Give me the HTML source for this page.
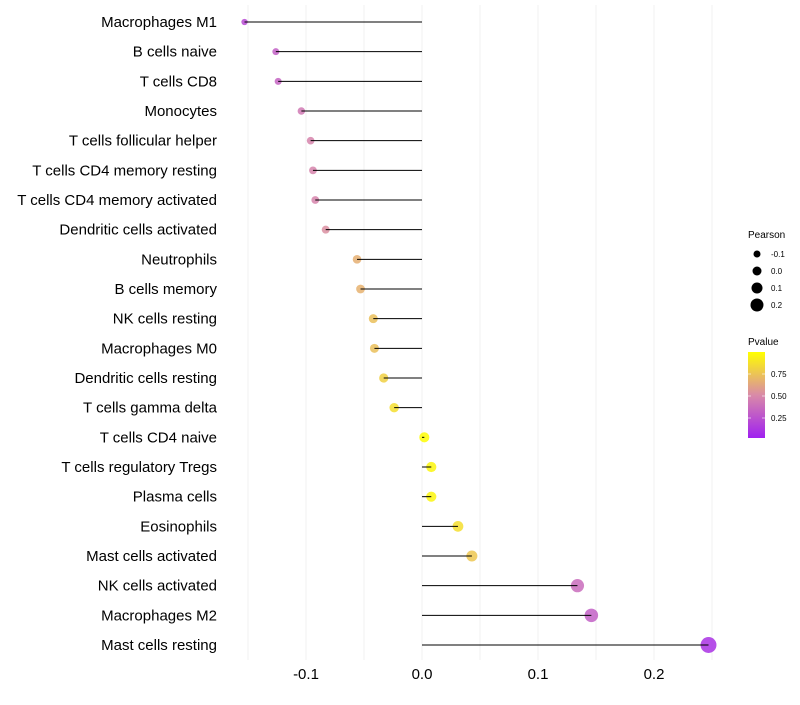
<!DOCTYPE html>
<html><head><meta charset="utf-8"><style>
body{margin:0;background:#fff;font-family:"Liberation Sans",sans-serif}
svg text{font-family:"Liberation Sans",sans-serif}
</style></head><body>
<svg id="chart" width="800" height="700" xmlns="http://www.w3.org/2000/svg">
<defs><linearGradient id="pg" x1="0" y1="1" x2="0" y2="0">
<stop offset="0" stop-color="#a020f0"/><stop offset="0.5" stop-color="#d98aa8"/><stop offset="1" stop-color="#ffff00"/></linearGradient></defs>
<g id="grid"></g>
<g id="marks"></g>
<g id="labels"></g>
<g id="xt"></g>
<g id="sleg">
<text x="748" y="238" font-size="10">Pearson</text>
</g>
<g>
<text x="748" y="345" font-size="10">Pvalue</text>
<rect x="748" y="352" width="17" height="86" fill="url(#pg)"/>
<line x1="748" x2="751" y1="374" y2="374" stroke="#fff" opacity="0.6"/><line x1="762" x2="765" y1="374" y2="374" stroke="#fff" opacity="0.6"/>
<line x1="748" x2="751" y1="396" y2="396" stroke="#fff" opacity="0.6"/><line x1="762" x2="765" y1="396" y2="396" stroke="#fff" opacity="0.6"/>
<line x1="748" x2="751" y1="418" y2="418" stroke="#fff" opacity="0.6"/><line x1="762" x2="765" y1="418" y2="418" stroke="#fff" opacity="0.6"/>
<text x="771" y="377" font-size="8">0.75</text>
<text x="771" y="399" font-size="8">0.50</text>
<text x="771" y="421" font-size="8">0.25</text>
</g>
</svg>
<script>
const cells=["Macrophages M1","B cells naive","T cells CD8","Monocytes","T cells follicular helper","T cells CD4 memory resting","T cells CD4 memory activated","Dendritic cells activated","Neutrophils","B cells memory","NK cells resting","Macrophages M0","Dendritic cells resting","T cells gamma delta","T cells CD4 naive","T cells regulatory  Tregs ","Plasma cells","Eosinophils","Mast cells activated","NK cells activated","Macrophages M2","Mast cells resting"];
const pearson=[-0.153,-0.126,-0.124,-0.104,-0.096,-0.094,-0.092,-0.083,-0.056,-0.053,-0.042,-0.041,-0.033,-0.024,0.002,0.008,0.008,0.031,0.043,0.134,0.146,0.247];
const pvalue=[0.2,0.3,0.32,0.42,0.47,0.47,0.47,0.52,0.66,0.67,0.73,0.73,0.8,0.86,0.99,0.96,0.96,0.86,0.76,0.36,0.3,0.08];
const xTicks=[-0.1,0.0,0.1,0.2];
const xTickLabels=["-0.1","0.0","0.1","0.2"];
const sizeLegend=[-0.1,0.0,0.1,0.2];
const ns="http://www.w3.org/2000/svg";
const X=v=>422+v*1160;
const Y=i=>22+i*(623/21);
const R=v=>Math.max(1.8,5+12*v);
function col(p){const s=[[160,32,240],[217,138,168],[255,255,0]];let t=p*2,a,b;if(t<=1){a=s[0];b=s[1];}else{a=s[1];b=s[2];t-=1;}return `rgb(${a.map((c,k)=>Math.round(c+(b[k]-c)*t)).join(',')})`;}
function mk(tag,at,parent){const e=document.createElementNS(ns,tag);for(const k in at)e.setAttribute(k,at[k]);document.getElementById(parent).appendChild(e);return e;}
for(let g=-0.15;g<=0.2501;g+=0.05){const l=mk('line',{x1:X(g),x2:X(g),y1:5,y2:660,stroke:'#f2f2f2','stroke-width':1},'grid');

}
cells.forEach((c,i)=>{
const pt=mk('circle',{cx:X(pearson[i]),cy:Y(i),r:R(pearson[i]),fill:col(pvalue[i]),'fill-opacity':0.85},'marks');


const ln=mk('line',{x1:X(0),x2:X(pearson[i]),y1:Y(i),y2:Y(i),stroke:'#000','stroke-width':1},'marks');


const t=mk('text',{x:217,y:Y(i)+5,'text-anchor':'end','font-size':15,fill:'#000'},'labels');


t.textContent=c;});
xTicks.forEach((v,i)=>{const t=mk('text',{x:X(v),y:679,'text-anchor':'middle','font-size':15,fill:'#000'},'xt');


t.textContent=xTickLabels[i];});
sizeLegend.forEach((v,i)=>{const y=254+i*17;
const c=mk('circle',{cx:757,cy:y,r:3.5+i*1,fill:'#000'},'sleg');


const t=mk('text',{x:771,y:y+3,'font-size':8},'sleg');


t.textContent=v.toFixed(1);});
</script>
</body></html>
